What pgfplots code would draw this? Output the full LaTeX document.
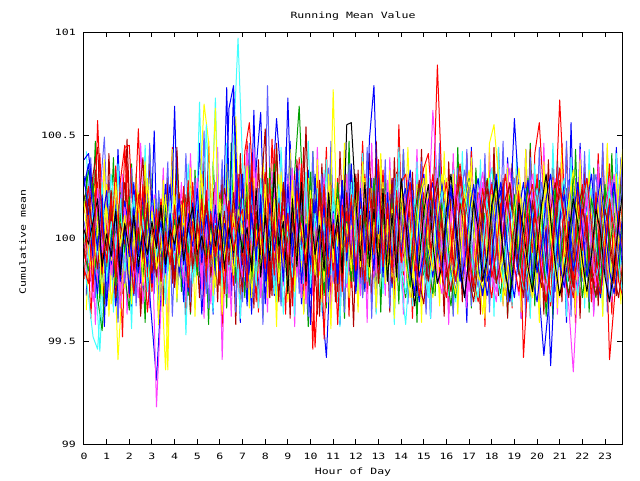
\documentclass[border=0pt]{standalone}
\usepackage{pgfplots}
\usepackage{pgfplotstable}
\usepackage{fontspec}
\pgfplotsset{compat=1.18}
\setmainfont[FakeStretch=1.33]{DejaVu Sans Mono}
\definecolor{gpred}{RGB}{255,0,0}
\definecolor{gpgreen}{RGB}{0,160,0}
\definecolor{gpblue}{RGB}{0,0,255}
\definecolor{gpmag}{RGB}{255,64,255}
\definecolor{gpcyan}{RGB}{64,255,255}
\definecolor{gpdred}{RGB}{176,0,0}
\definecolor{gpyel}{RGB}{255,255,0}
\definecolor{gpslate}{RGB}{96,96,255}
\definecolor{gpblack}{RGB}{0,0,0}
\pgfplotstableread{
x c1 c2 c3 c4 c5 c6 c7 c8 c9 c10 c11 c12 c13 c14 c15 c16 c17 c18
0.0 100.12 99.93 100.38 100.05 99.88 100.21 99.97 100.08 99.85 100.15 100.30 99.95 100.02 99.90 100.18 100.25 100.04 99.80
0.2 100.25 99.84 100.41 99.92 99.71 100.09 100.13 99.96 99.78 100.33 100.12 100.06 99.88 100.19 99.93 100.36 99.97 100.11
0.4 99.96 100.07 100.22 99.69 99.52 100.31 99.85 100.17 100.04 100.21 99.90 99.79 100.14 100.02 99.81 100.12 100.08 99.74
0.6 100.18 99.71 99.95 99.88 99.46 100.44 100.02 99.83 100.27 99.98 99.73 100.24 99.92 99.85 100.06 99.94 100.19 100.57
0.8 99.83 99.55 100.13 100.09 99.78 100.02 99.91 100.09 99.88 100.16 100.07 99.93 100.27 100.10 99.72 100.21 99.86 100.05
1.0 100.07 99.89 99.76 100.23 99.94 99.85 100.26 99.72 100.12 99.81 100.23 100.11 99.79 99.94 100.15 99.67 100.02 99.88
1.2 99.92 100.14 100.05 99.86 100.31 100.12 99.68 100.05 99.96 100.04 99.87 99.82 100.08 100.23 99.89 99.98 99.91 100.19
1.4 100.31 99.97 99.67 100.02 100.08 99.71 99.87 99.91 100.35 99.77 100.14 100.02 99.95 99.81 100.27 100.13 100.13 99.81
1.6 99.79 100.22 99.89 99.74 99.86 99.98 100.11 100.21 99.84 100.12 99.79 99.66 100.19 100.07 99.96 99.85 99.82 100.27
1.8 100.44 99.82 100.18 100.15 100.02 100.27 99.76 99.78 100.09 99.93 100.06 99.87 99.84 99.97 100.11 100.06 100.07 100.45
2.0 100.45 99.65 100.03 99.96 99.77 100.08 100.05 100.03 99.71 100.20 99.91 100.13 100.02 100.16 99.80 99.73 99.94 99.96
2.2 100.02 100.09 99.72 99.81 100.16 99.87 99.94 99.88 100.14 99.86 100.27 99.92 100.21 99.84 100.04 100.15 100.11 99.73
2.4 100.53 99.88 99.96 100.11 99.93 100.14 100.18 100.12 99.92 100.02 99.83 99.71 99.87 100.05 100.22 99.91 99.86 100.21
2.6 99.87 100.16 100.21 99.68 100.07 100.39 99.82 99.76 100.26 99.79 99.96 100.08 100.09 99.90 99.77 100.04 100.03 100.02
2.8 100.16 99.79 99.86 99.91 99.83 99.92 100.29 100.04 99.81 100.13 100.15 99.89 99.74 100.17 99.98 99.86 99.92 99.64
3.0 99.74 99.94 99.59 100.04 100.21 100.06 99.97 99.91 100.07 99.88 99.78 100.16 100.12 99.83 100.13 100.23 100.08 99.91
3.2 100.08 100.11 99.31 99.18 99.91 99.81 100.12 100.19 99.92 100.06 100.04 99.94 99.91 100.02 99.85 99.97 99.95 100.14
3.4 99.89 99.83 99.72 99.67 100.12 100.17 99.86 99.82 100.19 99.79 99.91 100.05 100.06 100.14 99.94 100.08 100.16 99.79
3.6 100.23 100.05 100.09 100.03 99.68 99.94 99.36 100.08 99.87 100.17 100.26 99.83 99.82 99.88 100.21 99.83 99.87 100.03
3.8 99.95 99.92 100.26 99.89 100.05 100.08 99.93 99.94 100.05 99.96 99.89 100.18 100.18 100.05 99.91 100.12 100.04 99.87
4.0 100.11 100.18 99.81 100.14 99.87 99.76 100.21 100.15 99.78 100.09 100.64 99.92 99.93 99.79 100.06 99.94 99.97 100.16
4.2 99.82 99.86 100.04 99.97 100.19 100.22 99.89 99.81 100.14 99.84 99.83 100.07 100.15 100.11 99.86 100.19 100.10 99.92
4.4 100.19 100.07 99.69 99.78 99.93 99.91 100.07 100.06 99.95 100.21 100.05 99.86 99.86 99.96 100.17 99.87 99.89 100.25
4.6 99.87 99.72 100.12 100.22 100.36 100.05 99.78 99.93 100.28 99.93 99.74 100.19 100.03 100.22 99.78 100.05 100.06 99.76
4.8 100.27 100.14 99.91 99.84 99.81 99.79 100.14 100.17 99.83 100.06 100.17 99.93 99.78 99.85 100.09 99.96 100.15 100.08
5.0 99.93 99.88 100.17 100.09 100.24 100.13 99.96 99.85 100.06 99.82 99.92 100.29 100.21 100.07 99.93 100.24 99.92 99.86
5.2 100.06 100.21 99.63 99.75 99.89 99.87 100.31 100.02 99.91 100.14 100.08 99.81 99.89 99.93 100.14 99.88 100.01 100.19
5.4 99.78 99.94 99.98 100.18 100.55 100.21 99.87 99.73 100.23 99.91 99.86 100.07 100.12 100.18 99.85 100.11 99.88 99.84
5.6 100.14 100.09 100.07 99.92 99.97 99.96 100.05 100.11 99.87 100.07 100.13 99.68 99.83 99.81 100.02 99.92 100.09 100.12
5.8 99.91 99.81 99.84 100.27 100.68 100.08 100.63 99.88 100.12 99.86 99.81 100.14 100.07 100.06 99.76 100.16 99.96 99.91
6.0 100.22 100.16 100.18 99.86 99.86 99.77 99.82 100.04 99.79 100.19 100.07 99.93 99.92 99.94 100.19 99.84 100.12 100.04
6.2 99.84 99.93 99.92 100.13 100.21 100.24 100.09 99.91 100.16 99.94 99.93 100.21 100.16 100.13 99.89 100.07 99.85 99.73
6.4 100.09 100.04 100.63 99.71 99.93 100.09 99.94 100.15 99.94 100.12 100.18 99.87 99.86 99.87 100.08 99.95 100.05 100.18
6.6 99.77 99.87 100.74 100.05 100.46 99.89 100.12 99.82 100.07 99.83 99.84 100.05 100.04 100.22 99.82 100.72 99.93 99.94
6.8 100.31 100.12 100.15 99.88 100.97 100.11 99.87 100.07 99.85 100.05 100.11 99.94 99.79 99.92 100.14 99.91 100.08 100.07
7.0 99.91 100.23 99.78 100.04 100.36 99.87 100.12 99.69 100.27 99.95 100.08 99.81 100.19 99.74 100.02 100.31 99.93 100.14
7.2 100.47 99.86 100.11 100.43 99.81 100.06 99.72 100.18 99.94 100.29 99.67 100.09 99.88 100.21 100.35 99.83 100.05 99.76
7.4 99.82 100.14 99.63 99.97 100.22 100.31 99.89 100.02 100.16 99.78 100.27 99.92 100.04 99.86 99.71 100.12 99.84 100.38
7.6 100.09 99.79 100.34 100.18 99.74 99.92 100.26 99.87 99.69 100.07 99.91 100.33 99.77 100.13 100.04 99.89 100.24 99.96
7.8 99.94 100.07 100.61 99.71 100.03 100.19 99.96 100.28 100.11 99.85 100.17 99.73 100.29 99.92 99.84 100.21 99.81 100.07
8.0 100.26 99.88 99.87 100.09 99.92 100.53 99.78 99.94 100.32 100.14 99.79 100.06 99.91 100.18 100.26 99.68 100.11 99.85
8.2 99.77 100.34 100.05 99.84 100.28 99.82 100.15 100.09 99.74 99.96 100.04 100.22 100.08 99.71 99.92 100.17 99.89 100.29
8.4 100.43 99.93 99.72 100.27 99.86 100.11 99.91 99.77 100.08 100.36 99.84 99.93 99.73 100.04 100.19 99.94 100.32 99.82
8.6 99.88 100.12 100.19 99.76 100.07 99.69 100.31 100.16 99.89 99.82 100.23 100.14 100.26 99.88 99.78 100.09 99.96 100.17
8.8 100.14 99.82 99.91 100.13 99.63 100.27 99.84 99.93 100.24 100.06 99.92 99.77 99.95 100.27 100.11 99.79 100.08 99.91
9.0 99.79 100.05 100.68 99.92 100.19 100.04 100.07 100.31 99.81 99.74 100.12 100.29 100.03 99.82 99.69 100.26 99.73 100.12
9.2 100.21 99.71 99.96 100.34 99.88 99.76 99.93 99.86 100.13 100.22 99.81 99.88 99.81 100.09 100.28 99.91 100.19 99.67
9.4 99.86 100.19 100.24 99.81 100.12 100.38 100.21 100.04 99.92 99.89 100.34 100.08 100.17 99.93 99.87 100.14 99.86 100.23
9.6 100.33 99.92 99.68 100.07 99.77 99.91 99.74 100.17 100.36 100.11 99.96 99.71 99.89 100.24 100.06 99.78 100.27 100.02
9.8 99.72 100.28 100.09 99.68 100.26 100.54 100.09 99.81 99.77 99.94 100.07 100.26 100.32 99.84 99.91 100.06 99.79 99.88
10.0 100.08 99.96 99.58 100.21 99.94 99.83 99.87 100.26 100.18 100.32 99.73 99.92 99.76 100.11 100.23 99.87 100.14 100.19
10.2 99.93 100.14 100.31 99.89 100.09 100.16 100.24 99.92 99.86 99.81 100.19 100.07 100.12 99.77 99.82 100.29 99.92 99.47
10.4 100.22 99.83 99.84 100.11 99.71 99.62 99.82 100.07 100.27 100.04 99.87 99.84 99.94 100.28 100.13 99.91 100.06 99.94
10.6 99.51 100.09 100.06 99.94 100.33 100.21 100.13 99.88 99.93 99.72 100.29 100.31 100.07 99.86 99.79 100.16 99.84 100.26
10.8 100.17 99.74 99.79 100.28 99.86 99.89 99.76 100.34 100.09 100.19 99.91 99.79 99.82 100.17 100.31 99.74 100.22 99.81
11.0 99.84 100.21 100.14 99.78 100.17 100.08 100.72 99.79 99.84 99.93 100.13 100.12 100.24 99.91 99.88 100.09 99.95 100.07
11.2 100.29 99.88 99.92 100.16 99.69 99.74 99.96 100.12 100.21 100.27 99.78 99.89 99.87 100.06 100.19 99.82 100.11 99.58
11.4 99.91 100.06 100.28 99.83 100.04 100.24 100.18 99.86 99.74 99.87 100.22 100.19 100.11 99.79 99.93 100.28 99.83 100.16
11.6 100.13 99.79 99.81 100.31 99.91 99.87 99.82 100.23 100.12 100.08 99.94 99.76 99.78 100.22 100.07 99.89 100.55 99.93
11.8 99.76 100.31 100.17 99.97 100.23 100.33 100.06 99.94 99.88 99.79 100.36 100.04 100.27 99.87 99.84 100.17 100.56 100.21
12.0 100.19 99.92 99.73 100.14 99.84 99.79 99.91 100.17 100.29 100.24 99.83 99.91 99.92 100.31 100.22 99.76 100.18 99.84
12.2 99.87 100.16 100.09 99.72 100.12 100.19 100.27 99.78 99.91 99.86 100.11 100.27 100.14 99.81 99.86 100.24 99.89 100.11
12.4 100.31 99.84 99.87 100.23 99.76 99.88 99.79 100.08 100.16 100.12 99.74 99.86 99.79 100.13 100.29 99.93 100.27 99.78
12.6 99.79 100.27 100.22 99.91 100.29 100.41 100.14 99.91 99.82 99.77 100.48 100.14 100.21 99.94 99.81 100.13 99.86 100.24
12.8 100.11 99.91 99.81 100.26 99.88 99.86 99.88 100.29 100.24 100.29 100.74 99.81 99.88 100.23 100.09 99.84 100.14 99.92
13.0 99.94 100.13 100.31 99.79 100.16 100.24 100.31 99.83 99.93 99.86 100.02 100.22 100.13 99.78 99.91 100.31 99.87 100.38
13.2 100.24 99.87 99.89 100.19 99.73 99.92 99.86 100.14 100.33 100.14 100.21 99.87 99.84 100.16 100.27 99.81 100.24 99.86
13.4 99.83 100.22 100.11 99.86 100.24 100.13 100.09 99.88 99.82 99.79 99.91 100.28 100.22 99.87 99.83 100.22 99.79 100.17
13.6 100.16 99.81 99.76 100.29 99.87 99.78 99.81 100.26 100.18 100.23 100.28 99.91 99.89 100.29 100.14 99.88 100.12 99.83
13.8 99.88 100.19 100.24 99.82 100.12 100.32 100.24 99.91 99.89 99.84 99.86 100.14 100.31 99.82 99.79 100.16 99.81 100.23
14.0 100.27 99.86 99.93 100.12 99.78 99.87 99.92 100.18 100.27 100.19 100.17 99.84 99.86 100.21 100.24 99.92 100.29 99.88
14.2 100.09 99.71 100.14 100.21 99.58 99.96 100.13 100.04 100.31 99.91 100.24 100.07 99.73 100.06 99.88 100.15 100.08 100.12
14.4 99.82 99.94 100.27 99.88 99.91 100.21 100.02 99.79 100.08 99.76 99.89 100.24 99.94 99.83 99.71 100.33 99.86 100.27
14.6 99.96 100.18 99.86 99.73 100.13 100.08 99.77 99.92 99.84 100.03 99.72 99.91 100.19 100.11 99.92 100.04 99.67 99.94
14.8 100.21 100.03 99.69 100.06 100.27 99.79 99.86 100.23 99.97 100.26 100.09 99.78 100.07 100.28 100.17 99.81 99.89 99.72
15.0 100.34 99.82 99.92 100.31 99.96 99.68 100.14 100.07 100.22 100.14 100.31 100.06 99.84 99.94 100.29 99.93 100.13 99.89
15.2 100.41 99.91 100.16 100.09 99.74 99.93 99.93 99.86 100.09 99.87 99.94 100.19 99.71 99.79 99.96 100.18 100.26 100.14
15.4 100.12 100.19 100.03 100.62 99.88 100.17 99.71 99.74 99.83 99.73 99.81 100.02 99.92 100.03 99.84 100.27 99.97 100.31
15.6 100.84 100.27 99.78 100.28 100.11 100.29 99.87 99.98 99.91 99.96 100.06 99.84 100.13 100.24 100.09 99.96 99.78 100.08
15.8 100.26 100.08 99.87 99.94 100.24 100.04 100.16 100.21 100.14 100.17 100.27 99.73 100.22 100.09 100.31 99.84 99.86 99.82
16.0 99.94 99.84 100.11 99.82 100.07 99.81 100.29 100.06 100.27 100.04 100.12 99.91 99.98 99.86 100.12 100.08 100.14 99.71
16.2 99.86 99.67 100.26 100.07 99.82 99.92 100.04 99.81 100.02 99.82 99.86 100.11 99.79 99.74 99.87 100.23 100.31 99.94
16.4 100.13 99.89 100.08 100.23 99.69 100.14 99.82 99.91 99.79 99.71 99.74 100.26 99.88 99.91 99.73 100.01 100.07 100.18
16.6 100.29 100.13 99.83 100.11 99.94 100.31 99.94 100.19 99.94 99.92 99.93 100.09 100.14 100.17 99.89 99.79 99.86 100.36
16.8 100.06 100.26 99.72 99.86 100.17 100.12 100.21 100.33 100.19 100.16 100.16 99.87 100.26 100.04 100.16 99.87 99.71 100.12
17.0 99.79 100.04 99.91 99.74 100.06 99.86 100.33 100.14 100.07 100.29 100.28 99.76 100.07 99.81 100.28 100.12 99.92 99.91
17.2 99.91 99.78 100.18 99.96 99.83 99.74 100.07 99.89 99.82 100.06 100.04 99.93 99.82 99.69 100.06 100.26 100.18 99.77
17.4 100.22 99.86 100.29 100.19 99.71 99.97 99.84 99.76 99.69 99.84 99.87 100.14 99.71 99.87 99.82 100.09 100.04 100.03
17.6 100.08 100.11 100.06 100.32 99.93 100.16 99.63 99.94 99.88 99.73 99.72 100.27 99.96 100.12 99.76 99.86 99.79 100.24
17.8 99.84 100.29 99.79 100.07 100.21 100.28 99.88 100.16 100.13 99.91 99.89 100.06 100.17 100.24 99.94 99.72 99.91 100.09
18.0 99.71 100.07 99.88 99.81 100.34 100.04 100.11 100.27 100.26 100.12 100.14 99.83 100.03 100.02 100.21 99.89 100.16 99.81
18.2 99.94 99.82 100.14 99.69 100.09 99.78 100.24 100.06 100.04 100.27 100.31 99.74 99.84 99.78 100.07 100.14 100.28 99.93
18.4 100.17 99.73 100.23 99.92 99.87 99.91 99.96 99.84 99.81 100.03 100.07 99.96 99.69 99.89 99.84 100.27 100.04 100.14
18.6 100.03 99.96 99.96 100.17 99.72 100.19 99.79 99.91 99.72 99.83 99.82 100.18 99.91 100.13 99.72 100.06 99.83 100.31
18.8 99.86 100.21 100.08 100.34 99.96 100.26 99.92 100.17 99.93 99.71 99.69 100.07 100.16 100.27 99.91 99.84 99.71 100.09
19.0 100.11 100.14 100.58 100.09 100.18 99.97 100.16 100.29 99.88 100.21 99.88 99.84 100.03 100.06 100.14 99.71 99.92 99.86
19.2 100.27 99.91 100.21 99.87 100.06 99.82 100.34 100.06 100.24 99.83 100.13 99.72 99.87 99.84 100.26 99.93 100.17 99.74
19.4 99.42 99.76 99.94 99.79 99.84 100.07 100.09 99.83 99.71 99.97 100.27 99.94 99.74 99.72 100.02 100.16 100.04 99.92
19.6 99.81 99.92 99.81 100.04 99.71 100.24 99.87 99.69 100.12 100.29 100.06 100.19 99.88 99.96 99.83 100.28 99.86 100.17
19.8 100.06 100.17 100.07 100.22 99.93 100.11 99.72 99.86 99.93 99.74 99.81 100.31 100.11 100.18 99.71 100.06 99.74 100.26
20.0 100.24 100.28 100.26 100.06 100.14 99.89 99.91 100.09 100.31 100.09 99.69 100.08 100.24 100.04 99.89 99.83 99.93 100.04
20.2 99.97 100.04 100.12 99.84 100.26 99.76 100.13 100.27 99.82 100.16 99.89 99.87 100.04 99.81 100.11 99.96 100.16 99.81
20.4 99.78 99.83 99.87 99.96 100.02 99.92 100.28 100.11 100.06 99.62 100.04 99.74 99.82 99.69 100.24 100.19 100.31 99.69
20.6 99.91 99.96 99.69 100.17 99.81 100.13 100.04 99.88 99.67 99.93 99.38 99.93 99.69 99.86 100.02 100.31 100.09 99.88
20.8 100.12 100.14 99.92 100.29 99.93 100.27 99.83 99.74 100.19 100.24 99.86 100.14 99.93 100.07 99.84 100.09 99.87 100.13
21.0 100.67 100.03 100.09 100.04 100.17 100.06 99.71 99.91 100.34 99.86 100.08 100.26 100.18 100.24 99.72 99.88 99.72 100.28
21.2 100.21 99.86 100.27 99.81 100.29 99.84 99.94 100.16 99.91 100.07 100.21 100.07 100.06 100.11 99.93 99.76 99.84 100.06
21.4 99.94 99.73 100.13 99.67 100.04 99.71 100.17 100.28 100.08 99.79 100.03 99.82 99.84 99.89 100.18 99.93 100.02 99.83
21.6 99.81 99.88 99.86 99.35 99.86 99.93 100.29 100.07 99.76 100.33 99.84 99.71 99.71 99.76 100.33 100.11 100.19 99.71
21.8 100.09 100.04 99.74 99.79 99.72 100.16 100.06 99.84 100.27 100.02 99.96 99.89 99.93 99.93 100.09 100.27 100.07 99.94
22.0 100.26 100.21 99.93 100.02 99.94 100.23 99.84 99.79 99.94 99.71 100.17 100.06 100.16 100.14 99.84 100.04 99.89 100.17
22.2 100.04 100.09 100.16 100.18 100.13 99.97 99.72 99.97 100.11 99.88 100.29 100.21 100.27 100.03 99.71 99.81 99.74 100.29
22.4 99.83 99.82 100.31 100.03 100.24 99.79 99.93 100.19 99.69 100.19 100.06 99.94 100.04 99.84 99.94 99.92 99.91 100.06
22.6 99.76 99.71 100.07 99.86 99.96 99.86 100.14 100.31 100.22 100.06 99.84 99.76 99.81 99.72 100.12 100.13 100.14 99.82
22.8 100.07 99.94 99.82 99.73 99.82 100.11 100.26 100.09 99.86 99.74 99.71 99.87 99.89 99.91 100.26 100.29 100.03 99.73
23.0 100.18 100.17 99.91 99.94 100.09 100.24 100.04 99.86 100.03 100.26 99.93 100.13 100.08 100.14 100.01 100.06 99.81 99.96
23.2 99.41 100.28 100.14 100.16 100.27 99.96 99.81 99.71 100.36 99.94 100.16 100.29 100.23 100.02 99.81 99.84 99.69 100.19
23.4 99.68 100.06 100.26 100.31 100.03 99.78 99.94 99.92 99.78 100.12 100.27 100.07 100.03 99.82 99.74 99.73 99.86 100.04
23.6 99.93 99.87 100.04 100.09 99.84 99.93 100.23 100.14 100.13 99.81 100.04 99.86 99.86 99.71 99.93 99.91 100.07 99.79
23.8 100.21 99.74 99.83 99.87 99.71 100.14 100.45 100.26 99.92 100.17 99.89 99.73 99.72 99.89 100.16 100.14 100.24 99.71
}\datatable
\pgfplotstableread{
x d1 d2 d3 d4 d5 d6 d7 d8
0.1 100.31 99.72 100.18 99.86 100.42 99.94 100.07 99.65
0.3 99.88 100.36 99.61 100.24 100.05 99.79 100.39 100.12
0.5 100.47 99.93 100.08 99.58 99.82 100.33 99.71 100.26
0.7 99.69 100.14 100.41 100.09 99.45 100.02 100.21 99.84
0.9 100.12 99.57 99.83 100.37 99.91 99.68 100.49 100.38
1.1 99.83 100.28 100.26 99.74 100.23 100.41 99.86 99.62
1.3 100.39 99.81 99.67 100.15 99.64 99.87 100.18 100.07
1.5 99.61 100.43 100.12 99.92 100.36 100.16 99.59 99.41
1.7 100.22 99.96 99.52 100.31 99.77 99.73 100.27 99.79
1.9 99.94 100.09 100.37 99.63 100.14 100.48 99.92 100.13
2.1 100.36 99.66 99.89 100.05 99.56 99.91 100.34 99.68
2.3 99.72 100.31 100.24 99.81 100.29 100.24 99.67 100.31
2.5 100.08 99.78 99.64 100.46 99.88 99.62 100.12 99.93
2.7 99.59 100.24 100.31 99.94 100.45 100.07 99.81 100.37
2.9 100.44 99.88 99.79 99.66 99.71 100.36 100.46 99.74
3.1 99.91 100.52 100.16 100.21 100.09 99.83 99.73 100.19
3.3 100.18 99.62 99.58 99.79 99.62 100.13 100.23 99.58
3.5 99.67 100.17 100.29 100.34 100.27 99.67 99.94 100.28
3.7 100.29 99.84 99.85 99.57 99.84 100.29 100.37 99.36
3.9 99.86 100.38 100.44 100.12 100.37 99.78 99.62 100.43
4.1 100.41 99.69 99.71 99.88 99.69 100.44 100.16 99.69
4.3 99.74 100.11 100.18 100.27 100.16 99.91 99.83 100.16
4.5 100.07 99.58 99.62 99.69 99.53 100.21 100.41 99.81
4.7 99.63 100.27 100.36 100.41 100.24 99.64 99.69 100.34
4.9 100.33 99.91 99.94 99.84 99.81 100.08 100.29 99.62
5.1 99.81 100.46 100.23 100.18 100.66 99.71 99.84 100.21
5.3 100.16 99.74 99.68 99.61 99.92 100.37 100.52 100.65
5.5 99.58 100.19 100.47 100.29 100.18 99.86 99.66 100.47
5.7 100.37 99.63 99.81 99.78 99.64 100.24 100.14 99.72
5.9 99.92 100.32 100.12 100.44 100.31 99.69 99.91 100.11
6.1 100.24 99.86 99.57 99.41 99.74 100.32 100.38 99.63
6.3 99.66 100.73 100.34 100.16 100.46 99.81 99.73 100.36
6.5 100.46 99.72 99.93 99.62 99.87 100.17 100.22 99.86
6.7 99.78 100.23 100.29 100.36 100.12 99.58 99.64 100.59
6.9 100.13 99.59 99.66 99.83 99.61 100.41 100.31 99.92
7.1 99.71 100.34 100.42 100.27 100.35 99.93 99.87 100.18
7.3 100.38 99.81 100.56 99.69 99.83 100.27 100.46 99.66
7.5 99.84 100.62 100.21 100.43 100.21 99.66 99.71 100.29
7.7 100.21 99.67 99.64 99.86 99.66 100.38 100.24 99.83
7.9 99.62 100.39 100.36 100.19 100.39 99.84 99.58 100.41
8.1 100.29 99.93 99.79 99.64 99.94 100.13 100.74 99.71
8.3 99.93 100.21 100.48 100.32 100.26 99.72 99.86 100.24
8.5 100.44 100.58 99.92 99.77 99.69 100.46 100.19 99.57
8.7 99.69 100.29 100.17 100.41 100.44 99.89 99.67 100.32
8.9 100.17 99.86 99.63 99.89 99.86 100.23 100.44 99.86
9.1 99.86 100.47 100.27 100.24 100.17 99.61 99.91 100.43
9.3 100.32 99.76 99.84 99.57 99.62 100.31 100.28 99.74
9.5 100.64 100.18 100.39 100.36 100.33 99.82 99.73 100.16
9.7 100.08 99.64 99.71 99.81 99.78 100.44 100.17 99.63
9.9 99.57 100.33 100.22 100.18 100.47 99.74 99.62 100.29
10.1 100.42 99.88 99.46 99.72 99.91 100.19 100.42 99.84
10.3 99.81 100.26 100.33 100.44 100.24 99.63 99.84 100.38
10.5 100.24 99.69 99.86 99.86 99.64 100.36 100.31 99.69
10.7 99.66 99.42 100.44 100.13 100.38 99.86 99.69 100.13
10.9 100.36 99.93 99.67 99.64 99.82 100.27 100.47 99.56
11.1 99.89 100.17 100.18 100.29 100.16 99.69 99.78 100.27
11.3 100.13 99.58 99.79 99.76 99.57 100.42 100.21 99.82
11.5 99.61 100.36 100.31 100.42 100.43 99.91 99.64 100.46
11.7 100.47 99.82 99.62 99.91 99.86 100.16 100.36 99.71
11.9 99.79 100.24 100.26 100.21 100.29 99.57 99.87 100.19
12.1 100.26 99.67 99.91 99.67 99.68 100.33 100.16 99.64
12.3 99.71 100.43 100.47 100.33 100.41 99.78 99.71 100.37
12.5 100.19 99.91 99.73 99.59 99.79 100.24 100.44 99.87
12.7 99.93 100.29 100.16 100.46 100.22 99.68 99.61 100.24
12.9 100.38 99.72 99.64 99.83 99.63 100.47 100.26 99.66
13.1 99.64 100.38 100.38 100.17 100.36 99.83 99.83 100.41
13.3 100.31 99.84 99.86 99.72 99.91 100.21 100.38 99.78
13.5 99.87 100.21 100.24 100.39 100.18 99.64 99.66 100.33
13.7 100.14 99.63 99.69 99.86 99.58 100.39 100.29 99.61
13.9 99.68 100.46 100.55 100.24 100.44 99.86 99.79 100.17
14.1 100.43 99.86 99.82 99.63 99.84 100.18 100.43 99.89
14.3 99.76 100.23 100.27 100.31 100.27 99.71 99.68 100.44
14.5 100.21 99.69 99.61 99.88 99.67 100.32 100.23 99.71
14.7 99.59 100.34 100.34 100.43 100.37 99.81 99.86 100.26
14.9 100.33 99.78 99.88 99.71 99.79 100.43 100.37 99.59
15.1 99.84 100.19 100.19 100.16 100.12 99.66 99.63 100.36
15.3 100.26 99.61 99.66 99.62 99.61 100.26 100.18 99.84
15.5 99.72 100.41 100.46 100.33 100.46 99.89 99.91 100.13
15.7 100.39 99.87 99.78 99.86 99.88 100.14 100.46 99.67
15.9 99.91 100.28 100.23 100.27 100.19 99.62 99.74 100.42
16.1 100.16 99.73 99.63 99.58 99.72 100.37 100.21 99.78
16.3 99.63 100.36 100.37 100.41 100.33 99.84 99.62 100.31
16.5 100.44 99.91 99.91 99.74 99.64 100.22 100.34 99.63
16.7 99.78 100.17 100.14 100.19 100.42 99.69 99.81 100.27
16.9 100.27 99.59 99.69 99.66 99.86 100.41 100.43 99.86
17.1 99.66 100.44 100.42 100.37 100.23 99.78 99.67 100.39
17.3 100.34 99.82 99.84 99.89 99.69 100.17 100.26 99.72
17.5 99.86 100.27 100.26 100.28 100.38 99.63 99.88 100.18
17.7 100.12 99.64 99.57 99.62 99.81 100.34 100.41 99.61
17.9 99.69 100.32 100.33 100.44 100.29 99.87 99.64 100.46
18.1 100.41 99.87 99.76 99.81 99.62 100.44 100.17 100.55
18.3 99.81 100.21 100.44 100.23 100.44 99.72 99.78 100.29
18.5 100.23 99.68 99.82 99.67 99.76 100.29 100.47 99.67
18.7 99.62 100.39 100.21 100.36 100.31 99.61 99.69 100.34
18.9 100.36 99.79 99.66 99.86 99.67 100.36 100.32 99.76
19.1 99.89 100.24 100.36 100.17 100.41 99.88 99.86 100.21
19.3 100.19 99.61 99.79 99.61 99.86 100.21 100.23 99.64
19.5 99.74 100.43 100.27 100.42 100.24 99.66 99.61 100.43
19.7 100.46 99.86 99.62 99.76 99.61 100.43 100.39 99.86
19.9 99.67 100.29 100.41 100.31 100.36 99.79 99.73 100.16
20.1 100.28 99.72 100.56 99.64 99.83 100.24 100.44 99.59
20.3 99.83 99.43 100.18 100.46 100.19 99.63 99.84 100.37
20.5 100.14 99.66 99.64 99.79 99.64 100.38 100.21 99.79
20.7 99.61 100.41 100.34 100.24 100.46 99.84 99.67 100.28
20.9 100.38 99.83 99.88 99.63 99.78 100.16 100.36 99.66
21.1 99.86 100.19 100.46 100.38 100.27 99.69 99.76 100.44
21.3 100.24 99.59 99.71 99.84 99.62 100.44 100.47 99.82
21.5 99.72 100.56 100.24 100.19 100.39 99.86 99.62 100.24
21.7 100.43 99.78 99.58 99.68 99.81 100.27 100.29 99.63
21.9 99.79 100.46 100.39 100.43 100.28 99.61 99.86 100.38
22.1 100.21 99.91 99.82 99.86 99.66 100.36 100.42 99.71
22.3 99.64 100.27 100.28 100.29 100.43 99.78 99.69 100.33
22.5 100.34 99.64 99.67 99.62 99.84 100.21 100.31 99.87
22.7 99.87 100.38 100.41 100.36 100.22 99.67 99.83 100.19
22.9 100.16 99.81 99.86 99.77 99.63 100.42 100.46 99.62
23.1 99.69 100.22 100.23 100.44 100.37 99.89 99.64 100.46
23.3 100.41 99.69 99.63 99.69 99.72 100.19 100.28 99.77
23.5 99.82 100.44 100.33 100.27 100.41 99.72 99.87 100.31
23.7 100.29 99.87 99.74 99.83 99.86 100.38 100.39 99.68
23.9 99.76 100.26 100.44 100.41 100.24 99.84 99.71 100.43
}\datatableb
\begin{document}
\fontsize{6.5}{8}\selectfont
\begin{tikzpicture}[font=\fontsize{6.5}{8}\selectfont]
\path[use as bounding box] (0,0) rectangle (480pt,360pt);
\begin{axis}[
  at={(63pt,27pt)}, anchor=south west,
  width=403.5pt, height=309pt, scale only axis,
  xmin=0, xmax=23.75, ymin=99, ymax=101,
  xtick={0,1,...,23},
  xticklabels={0,1,2,3,4,5,6,7,8,9,10,11,12,13,14,15,16,17,18,19,20,21,22,23},
  ytick={99,99.5,100,100.5,101},
  yticklabels={99,99.5,100,100.5,101},
  tick align=inside,
  major tick length=3.5pt,
  every tick/.style={black, line width=0.75pt},
  axis line style={line width=0.75pt},
  xticklabel style={yshift=-4.5pt},
  yticklabel style={xshift=-3.8pt},
  /pgf/number format/assume math mode=true,
  every axis plot/.append style={line width=0.75pt, no markers, line join=round},
]
\addplot[gpgreen] table[x=x,y=d1] {\datatableb};
\addplot[gpblue] table[x=x,y=d2] {\datatableb};
\addplot[gpred] table[x=x,y=d3] {\datatableb};
\addplot[gpmag] table[x=x,y=d4] {\datatableb};
\addplot[gpcyan] table[x=x,y=d5] {\datatableb};
\addplot[gpdred] table[x=x,y=d6] {\datatableb};
\addplot[gpslate] table[x=x,y=d7] {\datatableb};
\addplot[gpyel] table[x=x,y=d8] {\datatableb};
\addplot[gpred] table[x=x,y=c1] {\datatable};
\addplot[gpgreen] table[x=x,y=c2] {\datatable};
\addplot[gpblue] table[x=x,y=c3] {\datatable};
\addplot[gpmag] table[x=x,y=c4] {\datatable};
\addplot[gpcyan] table[x=x,y=c5] {\datatable};
\addplot[gpdred] table[x=x,y=c6] {\datatable};
\addplot[gpyel] table[x=x,y=c7] {\datatable};
\addplot[gpslate] table[x=x,y=c8] {\datatable};
\addplot[gpred] table[x=x,y=c9] {\datatable};
\addplot[gpgreen] table[x=x,y=c10] {\datatable};
\addplot[gpblue] table[x=x,y=c11] {\datatable};
\addplot[gpmag] table[x=x,y=c12] {\datatable};
\addplot[gpcyan] table[x=x,y=c13] {\datatable};
\addplot[gpdred] table[x=x,y=c14] {\datatable};
\addplot[gpyel] table[x=x,y=c15] {\datatable};
\addplot[gpblue] table[x=x,y=c16] {\datatable};
\addplot[gpblack] table[x=x,y=c17] {\datatable};
\addplot[gpred] table[x=x,y=c18] {\datatable};
\end{axis}
\node[anchor=base] at (264.75pt,346.3pt) {Running Mean Value};
\node[anchor=base] at (264.75pt,4.5pt) {Hour of Day};
\node[rotate=90] at (17pt,178.5pt) {Cumulative mean};
\end{tikzpicture}
\end{document}
